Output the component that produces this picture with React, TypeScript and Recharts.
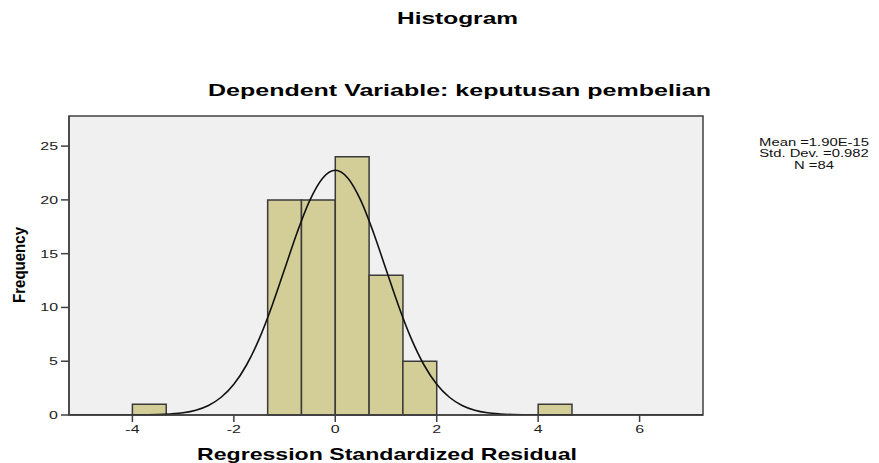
import { ComposedChart, Line, XAxis, YAxis, ReferenceArea, CartesianGrid } from 'recharts';

if (typeof document !== 'undefined') {
  document.body.style.margin = '0';
}

const FONT = '"Liberation Sans", Arial, sans-serif';

// histogram bins (left edges), bin width and counts
const binStarts = [-4, -1.333, -0.667, 0, 0.667, 1.333, 4];
const binWidth = 0.667;
const counts = [1, 20, 20, 24, 13, 5, 1];

// normal curve
const curveX = [
  -5.25, -4.5, -4, -3.75, -3.5, -3.25, -3, -2.75, -2.5, -2.25, -2, -1.75, -1.5, -1.25, -1,
  -0.75, -0.5, -0.25, 0, 0.25, 0.5, 0.75, 1, 1.25, 1.5, 1.75, 2, 2.25, 2.5, 2.75, 3, 3.25,
  3.5, 3.75, 4, 4.5, 7.25,
];
const curveY = [
  0, 0, 0.01, 0.02, 0.04, 0.1, 0.21, 0.45, 0.89, 1.65, 2.86, 4.65, 7.08, 10.12, 13.55,
  17.0, 19.98, 22.02, 22.75, 22.02, 19.98, 17.0, 13.55, 10.12, 7.08, 4.65, 2.86, 1.65, 0.89,
  0.45, 0.21, 0.1, 0.04, 0.02, 0.01, 0, 0,
];

const xTicks = [-4, -2, 0, 2, 4, 6];
const yTicks = [0, 5, 10, 15, 20, 25];
const xDomain = [-5.25, 7.25];
const yDomain = [0, 27.8];

const statsLines = ['Mean =1.90E-15', 'Std. Dev. =0.982', 'N =84'];

const curveData = curveX.map((x, i) => ({ x, y: curveY[i] }));

function YTick(props: any) {
  const { x, y, payload } = props;
  return (
    <text
      x={0}
      y={0}
      transform={`translate(${x},${y + 4}) scale(1.45,1)`}
      textAnchor="end"
      fontFamily={FONT}
      fontSize={11}
      fill="#222"
    >
      {payload.value}
    </text>
  );
}

function XTick(props: any) {
  const { x, y, payload } = props;
  return (
    <text
      x={0}
      y={0}
      transform={`translate(${x},${y + 8}) scale(1.45,1)`}
      textAnchor="middle"
      fontFamily={FONT}
      fontSize={11}
      fill="#222"
    >
      {payload.value}
    </text>
  );
}

export default function App() {
  return (
    <div style={{ position: 'relative', width: 879, height: 463, background: '#fff' }}>
      <ComposedChart
        width={879}
        height={463}
        data={curveData}
        margin={{ top: 116, right: 176, bottom: 18, left: 9 }}
      >
        <CartesianGrid horizontal={false} vertical={false} fill="#f0f0f0" />
        <XAxis
          dataKey="x"
          type="number"
          domain={xDomain}
          ticks={xTicks}
          allowDataOverflow
          height={30}
          tickSize={7}
          tickMargin={3}
          tick={<XTick />}
          axisLine={{ stroke: '#404040', strokeWidth: 1.5 }}
          tickLine={{ stroke: '#404040', strokeWidth: 1.5 }}
        />
        <YAxis
          type="number"
          domain={yDomain}
          ticks={yTicks}
          allowDataOverflow
          width={60}
          tickSize={8}
          tickMargin={3}
          tick={<YTick />}
          axisLine={{ stroke: '#404040', strokeWidth: 1.5 }}
          tickLine={{ stroke: '#404040', strokeWidth: 1.5 }}
        />
        {binStarts.map((start, i) => (
          <ReferenceArea
            key={`bin-${i}`}
            x1={start}
            x2={start + binWidth}
            y1={0}
            y2={counts[i]}
            fill="#d3ce97"
            fillOpacity={1}
            stroke="#3a3a3a"
            strokeWidth={1.5}
          />
        ))}
        <Line
          dataKey="y"
          type="monotone"
          stroke="#111"
          strokeWidth={1.6}
          dot={false}
          activeDot={false}
          isAnimationActive={false}
        />
        <ReferenceArea
          x1={xDomain[0]}
          x2={xDomain[1]}
          y1={yDomain[0]}
          y2={yDomain[1]}
          fill="none"
          fillOpacity={0}
          stroke="#404040"
          strokeWidth={1.5}
        />
      </ComposedChart>
      <svg
        width={879}
        height={463}
        style={{ position: 'absolute', left: 0, top: 0, pointerEvents: 'none' }}
      >
        <text x={457.5} y={24} textAnchor="middle" fontFamily={FONT} fontSize={17} fontWeight="bold" fill="#000" textLength={121} lengthAdjust="spacingAndGlyphs">
          Histogram
        </text>
        <text x={459.5} y={96} textAnchor="middle" fontFamily={FONT} fontSize={17} fontWeight="bold" fill="#000" textLength={503} lengthAdjust="spacingAndGlyphs">
          Dependent Variable: keputusan pembelian
        </text>
        <text x={387} y={460} textAnchor="middle" fontFamily={FONT} fontSize={17} fontWeight="bold" fill="#000" textLength={380} lengthAdjust="spacingAndGlyphs">
          Regression Standardized Residual
        </text>
        <text
          x={0}
          y={0}
          transform="translate(25,265) rotate(-90)"
          textAnchor="middle"
          fontFamily={FONT}
          fontSize={17}
          fontWeight="bold"
          fill="#000"
          textLength={76}
          lengthAdjust="spacingAndGlyphs"
        >
          Frequency
        </text>
        {statsLines.map((line, i) => (
          <text
            key={line}
            x={0}
            y={0}
            transform={`translate(814,${145.5 + i * 11.5}) scale(1.48,1)`}
            textAnchor="middle"
            fontFamily={FONT}
            fontSize={10}
            fill="#111"
          >
            {line}
          </text>
        ))}
      </svg>
    </div>
  );
}
